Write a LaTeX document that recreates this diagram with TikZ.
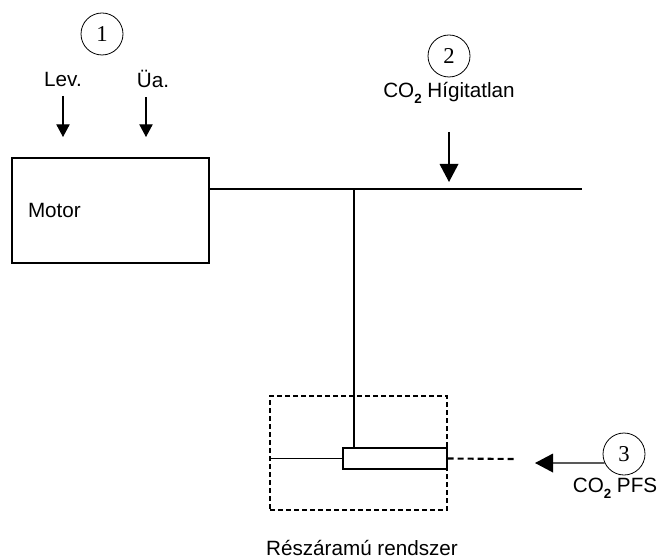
\documentclass[tikz,border=0pt]{standalone}
\usepackage{fontspec}
\setmainfont{Liberation Sans}
\newfontfamily\numfont{Liberation Serif}
\usepackage{tikz}
\usetikzlibrary{positioning,arrows.meta,calc}
\tikzset{
  cadre/.style={
    rectangle, draw, line width=0.8pt, inner sep=0pt},
  cadreMotor/.style={cadre, minimum width=147.75pt, minimum height=78.75pt,
    text width=123.75pt, align=left, inner xsep=12pt},
  cadrePointille/.style={cadre, dashed, dash pattern=on 3.5pt off 2.5pt,
    minimum width=132.75pt, minimum height=85.5pt},
  sonde/.style={cadre, minimum width=78pt, minimum height=15.75pt},
  numero/.style={circle, draw, line width=0.6pt, minimum size=31.5pt,
    inner sep=0pt, font=\numfont\fontsize{17}{17}\selectfont},
  texte/.style={font=\fontsize{15.5}{18}\selectfont, inner sep=0pt},
  ligne/.style={line width=0.8pt},
  fleche/.style={-{Triangle[length=9.5pt,width=10pt]}, line width=0.8pt},
  flecheGrande/.style={-{Triangle[length=13.5pt,width=14pt]}, line width=1pt},
  lignePointillee/.style={line width=1.6pt, dash pattern=on 4.5pt off 3pt}
}
\newcommand{\cod}{CO\raisebox{-0.55ex}{\fontsize{10}{10}\selectfont\bfseries 2}}

\begin{document}
\begin{tikzpicture}[x=0.75pt, y=-0.75pt]
  \useasboundingbox (0,0) rectangle (659,559);

  % --- Motor et entrees
  \node[numero] (n1) at (102,34) {1};
  \node[texte] (lev) at (63,79) {Lev.};
  \node[texte] (ua) at (153,79) {Üa.};
  \coordinate (levBout) at (63,137);
  \coordinate (uaBout) at (146,137);
  \draw[fleche, shorten <=7pt] (lev.south) -- (levBout);
  \draw[fleche, shorten <=7pt] (ua.south -| uaBout) -- (uaBout);
  \node[cadreMotor, texte] (motor) at (110.5,210.5) {Motor};

  % --- Conduite principale
  \coordinate (finLigne) at (582,189);
  \coordinate (jonction) at (354,189);
  \draw[ligne] (motor.east |- finLigne) -- (finLigne);
  \node[numero] (n2) at (449,56) {2};
  \node[texte] (higit) at (449,93) {\cod\ Hígitatlan};
  \coordinate (higitBout) at (449,182);
  \draw[flecheGrande, shorten <=21pt] (higit.south) -- (higitBout);

  % --- Reszaramu rendszer
  \node[cadrePointille] (rendszer) at (358.5,453) {};
  \node[sonde] (sonde) at (395,458.5) {};
  \draw[ligne] (jonction) -- (jonction |- sonde.north);
  \draw[ligne] (rendszer.west |- sonde.west) -- (sonde.west);
  \coordinate (finPointille) at (517,459);
  \draw[lignePointillee] (sonde.east) -- (finPointille);
  \node[texte, anchor=base] (titre) at (362,555) {Részáramú rendszer};

  % --- CO2 PFS
  \node[numero] (n3) at (624,454) {3};
  \node[texte] (pfs) at (615,488) {\cod\ PFS};
  \coordinate (pfsBout) at (535,463);
  \draw[flecheGrande] (n3.205) -- (pfsBout);

\end{tikzpicture}
\end{document}
